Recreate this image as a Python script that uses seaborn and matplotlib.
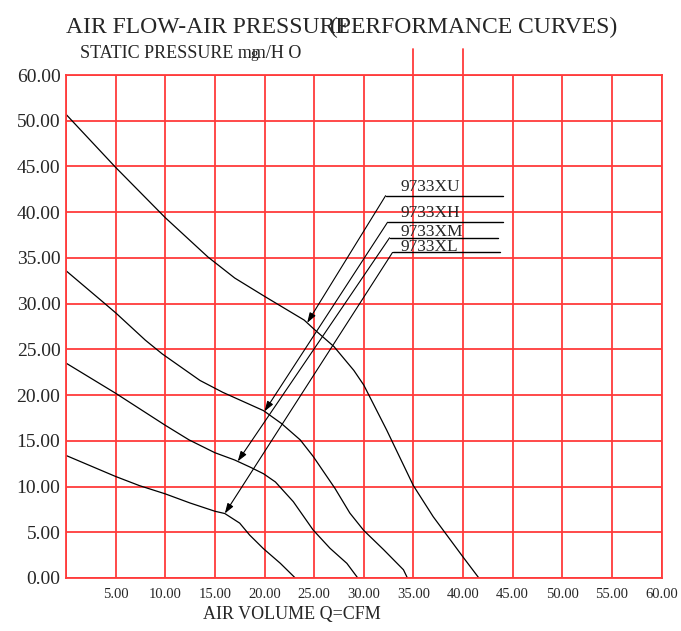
"""
plot.py

Air flow / air pressure performance curves for the 9733 fan series.
Draws four fan curves on a red plotter-style grid and saves out.png.
"""

import numpy as np
import pandas as pd
import seaborn as sns
import matplotlib.pyplot as plt
from matplotlib import transforms

# Curve data: air volume (CFM) vs static pressure
x_xu = [0, 5, 10, 14.3, 17, 20, 24, 25, 27, 29, 30, 32.3, 35, 37, 40, 41.6]
y_xu = [50.7, 44.9, 39.4, 35.1, 32.8, 30.8, 28.2, 27.2, 25.3, 22.7, 21.1,
        16.2, 10.1, 6.7, 2.3, 0]

x_xh = [0, 3.7, 5, 8, 9.7, 13.5, 15.8, 19.9, 21.7, 23.6, 24.9, 27.1, 28.6,
        30, 32, 34, 34.4]
y_xh = [33.6, 30.2, 29.0, 26.0, 24.5, 21.6, 20.3, 18.3, 16.9, 15.1, 13.3,
        9.8, 7.1, 5.2, 3.1, 0.9, 0]

x_xm = [0, 5, 10, 12.4, 15, 17, 18.6, 19.9, 21.1, 22.9, 24.9, 26.6, 28.3,
        29.4]
y_xm = [23.5, 20.2, 16.7, 15.1, 13.7, 12.9, 12.1, 11.4, 10.5, 8.35, 5.25,
        3.25, 1.6, 0]

x_xl = [0, 5, 7.4, 10, 12.5, 15, 16, 17.5, 18.5, 19.9, 21.6, 23.1]
y_xl = [13.4, 11.1, 10.1, 9.2, 8.2, 7.3, 7.05, 6.0, 4.7, 3.2, 1.6, 0]

models = ["9733XU", "9733XH", "9733XM", "9733XL"]

x_ticks = [0, 5, 10, 15, 20, 25, 30, 35, 40, 45, 50, 55, 60]
x_tick_labels = ["", "5.00", "10.00", "15.00", "20.00", "25.00", "30.00",
                 "35.00", "40.00", "45.00", "50.00", "55.00", "60.00"]
y_ticks = [0, 5, 10, 15, 20, 25, 30, 35, 40, 45, 50, 55]
y_tick_labels = ["0.00", "5.00", "10.00", "15.00", "20.00", "25.00", "30.00",
                 "35.00", "40.00", "45.00", "50.00", "60.00"]

RED = "#ff3b3b"
SERIF = ["Liberation Serif", "DejaVu Serif"]


def build_frame():
    """Long-form table of all four curves for seaborn."""
    parts = []
    for name, xs, ys in zip(models, [x_xu, x_xh, x_xm, x_xl],
                            [y_xu, y_xh, y_xm, y_xl]):
        parts.append(pd.DataFrame({"cfm": xs, "pressure": ys, "model": name}))
    return pd.concat(parts, ignore_index=True)


def fig_pos(px, py):
    """Pixel position in the 681x631 picture -> figure fraction."""
    return px / 681, 1 - py / 631


sns.set_style("white")
plt.rcParams["font.family"] = SERIF

df = build_frame()

fig = plt.figure(figsize=(6.81, 6.31), dpi=100)
ax = fig.add_axes([66 / 681, 53 / 631, 595.5 / 681, 503 / 631])

sns.lineplot(data=df, x="cfm", y="pressure", hue="model", units="model",
             estimator=None, sort=False, palette=["black"] * 4, lw=0.9,
             legend=False, ax=ax)

ax.set_xlim(0, 60)
ax.set_ylim(0, 55)
ax.set_xticks(x_ticks)
ax.set_xticklabels(x_tick_labels, fontsize=10.5)
ax.set_yticks(y_ticks)
ax.set_yticklabels(y_tick_labels, fontsize=14)
ax.set_xticks(np.arange(0, 61, 1), minor=True)
ax.set_yticks(np.arange(0, 56, 1), minor=True)
ax.tick_params(which="major", length=0, pad=4)
ax.tick_params(axis="x", which="major", pad=7)
ax.tick_params(which="minor", direction="in", length=6, width=1.2,
               color=RED)
ax.grid(True, which="major", color=RED, lw=1.3)
for sp in ax.spines.values():
    sp.set_color(RED)
    sp.set_linewidth(1.3)
ax.set_xlabel("")
ax.set_ylabel("")

# two grid lines poke out above the frame
trans = transforms.blended_transform_factory(ax.transData, ax.transAxes)
for xv in [35, 40]:
    ax.plot([xv, xv], [1, 1.052], color=RED, lw=1.3, transform=trans,
            clip_on=False)

# model labels with leader arrows
label_specs = {
    "9733XU": dict(line_y=41.8, x0=32.2, x1=44.0, target=24.3, base=42.35),
    "9733XH": dict(line_y=38.9, x0=32.4, x1=44.0, target=20.0, base=39.44),
    "9733XM": dict(line_y=37.2, x0=32.6, x1=43.5, target=17.3, base=37.35),
    "9733XL": dict(line_y=35.6, x0=32.9, x1=43.7, target=16.0, base=35.75),
}
curves = {"9733XU": (x_xu, y_xu), "9733XH": (x_xh, y_xh),
          "9733XM": (x_xm, y_xm), "9733XL": (x_xl, y_xl)}

for name in models:
    s = label_specs[name]
    xs, ys = curves[name]
    ty = np.interp(s["target"], xs, ys)
    ax.plot([s["x0"], s["x1"]], [s["line_y"], s["line_y"]], color="black",
            lw=1.0)
    ax.annotate("", xy=(s["target"], ty), xytext=(s["x0"], s["line_y"]),
                arrowprops=dict(arrowstyle="-|>,head_length=0.6,head_width=0.2",
                                color="black", lw=0.8, shrinkA=0, shrinkB=0))
    ax.text(33.75, s["base"], name, fontsize=12.5, ha="left",
            va="baseline")

# titles and axis captions
fig.text(*fig_pos(66, 33), "AIR FLOW-AIR PRESSURE", fontsize=17,
         ha="left", va="baseline")
fig.text(*fig_pos(330, 33), "(PERFORMANCE CURVES)", fontsize=17,
         ha="left", va="baseline")
fig.text(*fig_pos(80, 58), "STATIC PRESSURE mm/H O", fontsize=13,
         ha="left", va="baseline")
fig.text(*fig_pos(250, 58), "g", fontsize=11, ha="left", va="baseline")
fig.text(*fig_pos(203, 619), "AIR VOLUME Q=CFM", fontsize=13,
         ha="left", va="baseline")

fig.savefig("out.png", dpi=100)
